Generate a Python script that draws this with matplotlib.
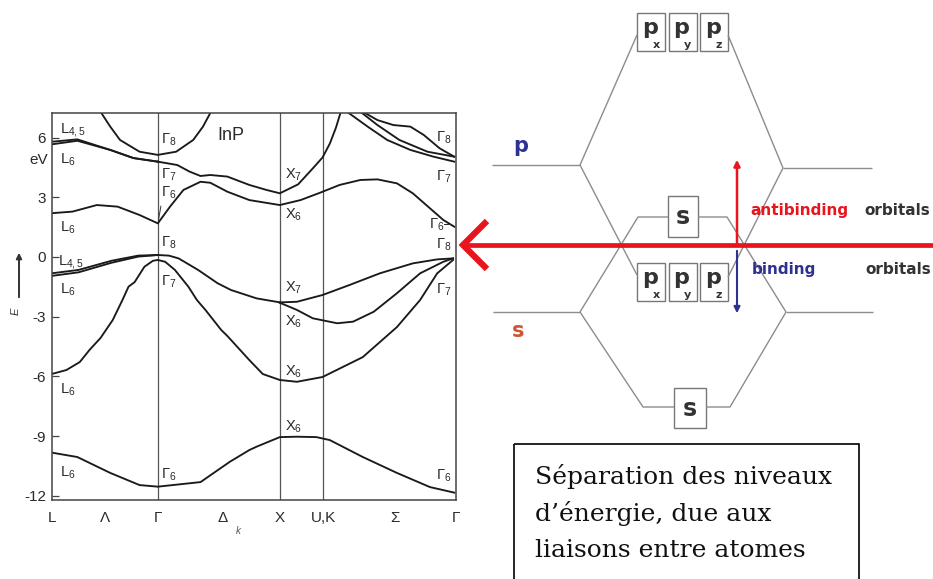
import numpy as np
import matplotlib.pyplot as plt
from matplotlib.patches import Rectangle

plt.rcParams["font.family"] = ["Liberation Sans", "DejaVu Sans"]
plt.rcParams["mathtext.fontset"] = "custom"
plt.rcParams["mathtext.rm"] = "Liberation Sans"
plt.rcParams["mathtext.it"] = "Liberation Sans:italic"
plt.rcParams["mathtext.bf"] = "Liberation Sans:bold"
plt.rcParams["axes.unicode_minus"] = False

# ---------------- band structure data (k along L-G-X-U,K-G, E in eV) ----------------
k_sym = [0.874, 1.871, 2.224]
k_tick_pos = [0.0, 0.44, 0.874, 1.40, 1.871, 2.224, 2.81, 3.314]
k_tick_labels = ["L", "Λ", "Γ", "Δ", "X", "U,K", "Σ", "Γ"]
e_ticks = [6, 3, 0, -3, -6, -9, -12]
e_tick_labels = ["6", "3", "0", "-3", "-6", "-9", "-12"]

vb_s_k = [0.00, 0.21, 0.48, 0.72, 0.87, 1.22, 1.46, 1.62, 1.68, 1.87, 2.01, 2.17, 2.28, 2.55, 2.83, 3.10, 3.30]
vb_s_E = [-9.83, -10.05, -10.85, -11.46, -11.54, -11.31, -10.29, -9.70, -9.53, -9.05, -9.03, -9.05, -9.20, -10.05, -10.85, -11.56, -11.84]

vb_so_k = [0.00, 0.12, 0.23, 0.31, 0.40, 0.50, 0.58, 0.63, 0.68, 0.76, 0.83, 0.87, 0.93, 1.01, 1.12, 1.19, 1.26, 1.39, 1.44,
           1.62, 1.73, 1.87, 2.01, 2.22, 2.55, 2.83, 3.02, 3.16, 3.29]
vb_so_E = [-5.88, -5.68, -5.28, -4.67, -4.07, -3.17, -2.16, -1.49, -1.26, -0.49, -0.19, -0.15, -0.24, -0.65, -1.49, -2.16, -2.66, -3.67, -3.97,
           -5.18, -5.88, -6.18, -6.27, -6.03, -5.03, -3.52, -2.16, -0.82, -0.15]

vb_l45_k = [0.00, 0.22, 0.49, 0.71, 0.87]
vb_l45_E = [-0.82, -0.65, -0.19, 0.07, 0.10]
vb_l6_k = [0.00, 0.22, 0.49, 0.71, 0.87]
vb_l6_E = [-0.95, -0.77, -0.29, 0.02, 0.10]

vb_gx_k = [0.87, 0.96, 1.04, 1.20, 1.36, 1.47, 1.68, 1.87]
vb_gx_E = [0.10, 0.07, -0.07, -0.65, -1.32, -1.66, -2.08, -2.28]

vb_x7_k = [1.87, 2.01, 2.22, 2.44, 2.69, 2.96, 3.16, 3.29]
vb_x7_E = [-2.28, -2.25, -1.91, -1.41, -0.82, -0.32, -0.12, -0.07]

vb_x6_k = [1.87, 2.01, 2.14, 2.34, 2.47, 2.64, 2.83, 3.02, 3.21, 3.29]
vb_x6_E = [-2.30, -2.66, -3.08, -3.33, -3.25, -2.75, -1.82, -0.82, -0.24, -0.07]

cb_low_k = [0.00, 0.17, 0.37, 0.54, 0.72, 0.87, 0.97, 1.08, 1.22, 1.30, 1.44, 1.62, 1.87, 2.04, 2.20, 2.36, 2.53,
            2.67, 2.83, 2.96, 3.10, 3.21, 3.30]
cb_low_E = [2.20, 2.28, 2.61, 2.53, 2.11, 1.69, 2.53, 3.37, 3.78, 3.73, 3.28, 2.86, 2.61, 2.86, 3.23, 3.62, 3.87,
            3.90, 3.70, 3.20, 2.45, 1.86, 1.52]

cb_g7_k = [0.87, 1.03, 1.13, 1.22, 1.30, 1.44, 1.62, 1.76, 1.87, 2.02, 2.14, 2.22, 2.28, 2.33, 2.37]
cb_g7_E = [4.79, 4.62, 4.29, 4.07, 4.12, 4.04, 3.62, 3.37, 3.20, 3.65, 4.45, 5.00, 5.70, 6.50, 7.30]

cb_g8_k = [0.40, 0.48, 0.56, 0.72, 0.87, 1.02, 1.16, 1.24, 1.31]
cb_g8_E = [7.30, 6.55, 5.88, 5.29, 5.13, 5.29, 5.88, 6.55, 7.35]

cb_l45_k = [0.00, 0.21, 0.48, 0.67, 0.87]
cb_l45_E = [5.79, 5.91, 5.38, 4.97, 4.79]
cb_l6_k = [0.00, 0.21, 0.48, 0.67, 0.87]
cb_l6_E = [5.66, 5.84, 5.38, 4.97, 4.79]

cb_r1_k = [2.42, 2.59, 2.75, 2.94, 3.13, 3.30]
cb_r1_E = [7.30, 6.55, 5.88, 5.38, 5.04, 4.79]
cb_r2_k = [2.53, 2.67, 2.85, 3.08, 3.30]
cb_r2_E = [7.30, 6.63, 5.88, 5.29, 5.04]
cb_r3_k = [2.55, 2.67, 2.80, 2.94, 3.05, 3.18, 3.30]
cb_r3_E = [7.30, 6.88, 6.63, 6.55, 6.13, 5.46, 5.04]

bands = [
    (vb_s_k, vb_s_E), (vb_so_k, vb_so_E), (vb_l45_k, vb_l45_E), (vb_l6_k, vb_l6_E),
    (vb_gx_k, vb_gx_E), (vb_x7_k, vb_x7_E), (vb_x6_k, vb_x6_E), (cb_low_k, cb_low_E),
    (cb_g7_k, cb_g7_E), (cb_g8_k, cb_g8_E), (cb_l45_k, cb_l45_E), (cb_l6_k, cb_l6_E),
    (cb_r1_k, cb_r1_E), (cb_r2_k, cb_r2_E), (cb_r3_k, cb_r3_E),
]

# state labels: (text, k, E, ha)
state_labels = [
    (r"$\mathrm{L}_{4,5}$", 0.07, 6.38, "left"), (r"$\mathrm{L}_6$", 0.07, 4.87, "left"),
    (r"$\mathrm{L}_6$", 0.07, 1.46, "left"), (r"$\mathrm{L}_{4,5}$", 0.05, -0.25, "left"),
    (r"$\mathrm{L}_6$", 0.07, -1.66, "left"), (r"$\mathrm{L}_6$", 0.07, -6.68, "left"),
    (r"$\mathrm{L}_6$", 0.07, -10.85, "left"),
    (r"$\Gamma_8$", 0.90, 5.88, "left"), (r"$\Gamma_7$", 0.90, 4.12, "left"),
    (r"$\Gamma_6$", 0.90, 3.22, "left"), (r"$\Gamma_8$", 0.90, 0.70, "left"),
    (r"$\Gamma_7$", 0.90, -1.26, "left"), (r"$\Gamma_6$", 0.90, -10.95, "left"),
    (r"$\mathrm{X}_7$", 1.91, 4.12, "left"), (r"$\mathrm{X}_6$", 1.91, 2.11, "left"),
    (r"$\mathrm{X}_7$", 1.91, -1.56, "left"), (r"$\mathrm{X}_6$", 1.91, -3.27, "left"),
    (r"$\mathrm{X}_6$", 1.91, -5.78, "left"), (r"$\mathrm{X}_6$", 1.91, -8.54, "left"),
    (r"$\Gamma_8$", 3.28, 5.98, "right"), (r"$\Gamma_7$", 3.28, 4.02, "right"),
    (r"$\Gamma_6$–", 3.29, 1.61, "right"), (r"$\Gamma_8$", 3.28, 0.60, "right"),
    (r"$\Gamma_7$", 3.28, -1.66, "right"), (r"$\Gamma_6$", 3.28, -11.0, "right"),
]

fig = plt.figure(figsize=(9.33, 5.79), dpi=100)

# ---------------- left: InP band structure ----------------
ax = fig.add_axes([51.7 / 933, 79 / 579, 404.3 / 933, 387.3 / 579])
ax.set_xlim(0, 3.314)
ax.set_ylim(-12.21, 7.25)
for ks in k_sym:
    ax.axvline(ks, color="#555555", lw=0.9, zorder=1)
for kk, ee in bands:
    ax.plot(kk, ee, color="#1a1a1a", lw=1.35, zorder=2, solid_joinstyle="round")
ax.plot([0.875, 0.895], [1.85, 2.55], color="#333333", lw=0.7)

for txt, kx, ey, ha in state_labels:
    ax.text(kx, ey, txt, ha=ha, va="center", fontsize=10.5, color="#2a2a2a")
ax.text(1.36, 6.08, "InP", fontsize=13, color="#2a2a2a", va="center")

ax.set_yticks(e_ticks)
ax.set_yticklabels(e_tick_labels)
ax.set_xticks(k_tick_pos)
ax.set_xticklabels(k_tick_labels)
ax.tick_params(axis="y", direction="in", length=5, width=0.9, pad=4, labelsize=11,
               labelcolor="#2a2a2a", color="#444444")
ax.tick_params(axis="x", length=0, pad=8, labelsize=11, labelcolor="#2a2a2a")
for sp in ax.spines.values():
    sp.set_color("#444444")
    sp.set_linewidth(1.1)

# ---------------- overlay in pixel coordinates ----------------
ov = fig.add_axes([0, 0, 1, 1])
ov.set_xlim(0, 933)
ov.set_ylim(579, 0)
ov.axis("off")
ov.patch.set_alpha(0)

ov.text(48, 160, "eV", ha="right", va="center", fontsize=11, color="#2a2a2a")
ov.annotate("", xy=(19, 250), xytext=(19, 300),
            arrowprops=dict(arrowstyle="-|>", color="#333333", lw=1.4, mutation_scale=8))
ov.text(16, 311, "E", rotation=90, style="italic", fontsize=8, ha="center", va="center", color="#333333")
ov.text(238, 531, "k", style="italic", fontsize=7, ha="center", va="center", color="#555555")

# orbital diagram
gray = "#8c8c8c"
red = "#e8141e"
blue = "#2e3192"


def seg(xs, ys):
    ov.plot(xs, ys, color=gray, lw=1.0, solid_capstyle="butt")


seg([492, 580], [165, 165])
seg([783, 872], [168, 168])
seg([493, 580], [312, 312])
seg([786, 873], [312, 312])
seg([580, 637], [165, 35])
seg([728, 783], [35, 168])
seg([580, 637], [165, 275])
seg([728, 783], [277, 168])
seg([580, 638, 668], [312, 217, 217])
seg([698, 727, 786], [217, 217, 312])
seg([580, 643, 674], [312, 407, 407])
seg([706, 730, 786], [407, 407, 312])

p_box_x = [637, 668.5, 700]
p_subs = ["x", "y", "z"]
for y0 in (13, 263):
    for x0, sub in zip(p_box_x, p_subs):
        ov.add_patch(Rectangle((x0, y0), 28, 37.5, facecolor="white", edgecolor="#777777", lw=1.0))
        ov.text(x0 + 5, y0 + 21, "p", fontsize=16, fontweight="bold", color="#333333",
                family="DejaVu Sans", va="baseline", ha="left")
        ov.text(x0 + 19, y0 + 34.5, sub, fontsize=8, fontweight="bold", color="#333333",
                family="DejaVu Sans", va="baseline", ha="center")

for x0, y0, w, h in [(668, 196, 30, 41), (674, 388, 32, 40)]:
    ov.add_patch(Rectangle((x0, y0), w, h, facecolor="white", edgecolor="#777777", lw=1.0))
    ov.text(x0 + w / 2, y0 + h / 2 + 1, "s", fontsize=17, fontweight="bold", color="#333333",
            family="DejaVu Sans", va="center", ha="center")

ov.text(521, 152, "p", fontsize=15, fontweight="bold", color=blue, family="DejaVu Sans",
        ha="center", va="baseline")
ov.text(518, 337, "s", fontsize=15, fontweight="bold", color="#d05535", family="DejaVu Sans",
        ha="center", va="baseline")

ov.annotate("", xy=(737, 157), xytext=(737, 246),
            arrowprops=dict(arrowstyle="-|>", color=red, lw=1.8, mutation_scale=9))
ov.annotate("", xy=(737, 316), xytext=(737, 248),
            arrowprops=dict(arrowstyle="-|>", color=blue, lw=1.5, mutation_scale=9))

ov.plot([462, 940], [245, 245], color=red, lw=3.4, solid_capstyle="butt")
ov.plot([487, 463, 487], [221, 245, 269], color=red, lw=4.5, solid_joinstyle="miter",
        solid_capstyle="butt")

ov.text(750, 215, "antibinding", fontsize=11, fontweight="bold", color=red, family="DejaVu Sans",
        va="baseline")
ov.text(864, 215, "orbitals", fontsize=11, fontweight="bold", color="#333333", family="DejaVu Sans",
        va="baseline")
ov.text(752, 274, "binding", fontsize=11, fontweight="bold", color=blue, family="DejaVu Sans",
        va="baseline")
ov.text(865, 274, "orbitals", fontsize=11, fontweight="bold", color="#333333", family="DejaVu Sans",
        va="baseline")

ov.add_patch(Rectangle((513.5, 444), 345, 160, facecolor="none", edgecolor="black", lw=1.2))
box_lines = ["Séparation des niveaux", "d’énergie, due aux", "liaisons entre atomes"]
for i, line in enumerate(box_lines):
    ov.text(535, 484 + 36.5 * i, line, fontsize=18, family="DejaVu Serif", color="#111111",
            va="baseline", ha="left")

fig.savefig("out.png", dpi=100)
